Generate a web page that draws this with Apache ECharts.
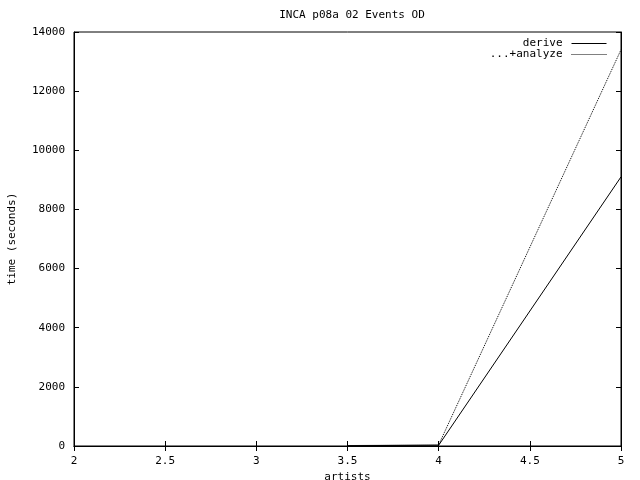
<!DOCTYPE html>
<html><head><meta charset="utf-8">
<script src="https://cdn.jsdelivr.net/npm/echarts@6/dist/echarts.min.js"></script>
<style>html,body{margin:0;padding:0;background:#fff}#c{width:640px;height:480px}</style>
</head><body><div id="c"></div>
<script>
const artists = [3.5, 4, 5];
const deriveTimes = [12, 25, 9100];
const analyzeTimes = [15, 40, 13400];
const seriesNames = ['derive', '...+analyze'];
const xTicks = [2, 2.5, 3, 3.5, 4, 4.5, 5];
const yTicks = [0, 2000, 4000, 6000, 8000, 10000, 12000, 14000];

const font = 'DejaVu Sans Mono';
const chart = echarts.init(document.getElementById('c'), null, {renderer: 'canvas'});
const toPairs = (xs, ys) => xs.map((x, i) => [x, ys[i]]);
const axisCommon = {
  axisLine: {show: true, lineStyle: {color: '#000', width: 1}},
  axisTick: {show: true, inside: true, length: 5, lineStyle: {color: '#000'}},
  splitLine: {show: false}
};
chart.setOption({
  animation: false,
  backgroundColor: '#fff',
  title: {text: 'INCA p08a 02 Events OD', left: 347, textAlign: 'center', top: 5,
    textStyle: {fontFamily: font, fontSize: 11, fontWeight: 'normal', color: '#000'}},
  legend: {
    orient: 'vertical', right: 33, top: 38, align: 'right', itemGap: 0, padding: 0,
    itemWidth: 35, itemHeight: 11,
    itemStyle: {opacity: 0},
    textStyle: {fontFamily: font, fontSize: 11, color: '#000', padding: [0, 4, 0, 0]},
    data: [
      {name: seriesNames[0], lineStyle: {width: 1, type: 'solid', color: '#000'}},
      {name: seriesNames[1], lineStyle: {width: 1, type: [1, 1], color: '#000'}}
    ]
  },
  grid: {left: 74, right: 19, top: 32, bottom: 34, show: true, borderColor: '#000', borderWidth: 1,
    containLabel: false, outerBoundsMode: 'none'},
  xAxis: [
    Object.assign({type: 'value', min: xTicks[0], max: xTicks[xTicks.length - 1], interval: 0.5,
      name: 'artists', nameLocation: 'middle', nameGap: 24,
      nameTextStyle: {fontFamily: font, fontSize: 11, color: '#000'},
      axisLabel: {fontFamily: font, fontSize: 11, color: '#000', margin: 10}}, axisCommon),
    Object.assign({type: 'value', position: 'top', min: 2, max: 5, interval: 0.5,
      axisLabel: {show: false}}, axisCommon)
  ],
  yAxis: [
    Object.assign({type: 'value', min: yTicks[0], max: yTicks[yTicks.length - 1], interval: 2000,
      name: 'time (seconds)', nameLocation: 'middle', nameGap: 56, nameRotate: 90,
      nameTextStyle: {fontFamily: font, fontSize: 11, color: '#000'},
      axisLabel: {fontFamily: font, fontSize: 11, color: '#000', margin: 9, formatter: v => String(v)}}, axisCommon),
    Object.assign({type: 'value', position: 'right', min: 0, max: 14000, interval: 2000,
      axisLabel: {show: false}}, axisCommon)
  ],
  series: [
    {name: seriesNames[0], type: 'line', data: toPairs(artists, deriveTimes), showSymbol: false,
      symbol: 'none', lineStyle: {color: '#000', width: 1, type: 'solid'}, itemStyle: {color: '#000'}},
    {name: seriesNames[1], type: 'line', data: toPairs(artists, analyzeTimes), showSymbol: false,
      symbol: 'none', lineStyle: {color: '#000', width: 1, type: [1, 1]}, itemStyle: {color: '#000'}}
  ]
});
</script></body></html>
